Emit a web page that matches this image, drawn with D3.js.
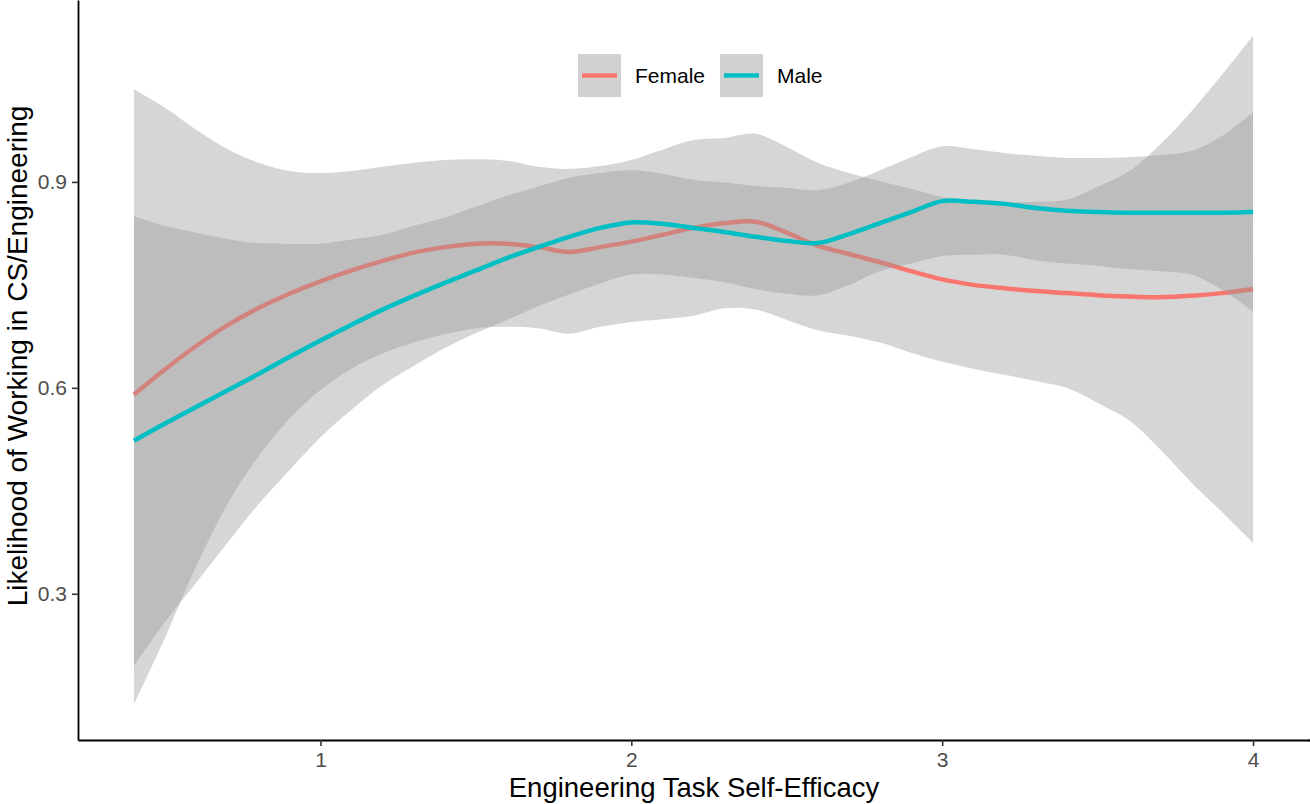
<!DOCTYPE html>
<html>
<head>
<meta charset="utf-8">
<script src="https://cdn.jsdelivr.net/npm/d3@7"></script>
<style>
  body { margin: 0; background: #ffffff; }
  svg { display: block; }
  text { font-family: "Liberation Sans", Arial, Helvetica, sans-serif; }
</style>
</head>
<body>
<svg id="chart" width="1310" height="804"></svg>
<script>
// Smoothed fit of career likelihood against task self-efficacy, by gender,
// with the 95% confidence ribbon of each fit.
const selfEfficacy = [0.4, 0.5, 0.6, 0.7, 0.8, 0.9, 1.0, 1.1, 1.2, 1.3, 1.4, 1.5, 1.6, 1.7, 1.8, 1.9,
  2.0, 2.1, 2.2, 2.3, 2.4, 2.5, 2.6, 2.7, 2.8, 2.9, 3.0, 3.1, 3.2, 3.3, 3.4, 3.5, 3.6, 3.7, 3.8, 3.9, 4.0];

const femaleFit = [0.590, 0.627, 0.661, 0.691, 0.716, 0.737, 0.755, 0.771, 0.785, 0.797, 0.805, 0.810,
  0.810, 0.805, 0.798, 0.805, 0.813, 0.823, 0.833, 0.840, 0.842, 0.826, 0.807, 0.795, 0.783, 0.770,
  0.758, 0.750, 0.745, 0.741, 0.738, 0.735, 0.733, 0.732, 0.734, 0.738, 0.744];
const femaleUpper = [1.035, 1.008, 0.976, 0.948, 0.928, 0.916, 0.913, 0.916, 0.922, 0.928, 0.932, 0.933,
  0.931, 0.922, 0.919, 0.923, 0.932, 0.947, 0.961, 0.964, 0.970, 0.951, 0.928, 0.913, 0.901, 0.890,
  0.878, 0.872, 0.871, 0.871, 0.874, 0.893, 0.915, 0.954, 1.002, 1.056, 1.113];
const femaleLower = [0.139, 0.236, 0.340, 0.430, 0.500, 0.555, 0.597, 0.628, 0.650, 0.666, 0.678, 0.687,
  0.689, 0.687, 0.679, 0.689, 0.696, 0.700, 0.705, 0.716, 0.714, 0.699, 0.684, 0.676, 0.666, 0.651,
  0.638, 0.628, 0.619, 0.610, 0.600, 0.578, 0.553, 0.511, 0.463, 0.419, 0.374];

const maleFit = [0.523, 0.548, 0.572, 0.596, 0.620, 0.645, 0.669, 0.692, 0.714, 0.734, 0.753, 0.771,
  0.789, 0.805, 0.820, 0.833, 0.841, 0.839, 0.833, 0.827, 0.820, 0.814, 0.811, 0.824, 0.840, 0.856,
  0.872, 0.871, 0.868, 0.862, 0.858, 0.856, 0.855, 0.855, 0.855, 0.855, 0.856];
const maleUpper = [0.850, 0.836, 0.826, 0.817, 0.811, 0.810, 0.810, 0.816, 0.823, 0.836, 0.848, 0.864,
  0.880, 0.893, 0.906, 0.913, 0.917, 0.912, 0.903, 0.899, 0.894, 0.891, 0.888, 0.899, 0.917, 0.936,
  0.952, 0.948, 0.942, 0.938, 0.935, 0.935, 0.936, 0.939, 0.945, 0.967, 1.002];
const maleLower = [0.195, 0.259, 0.316, 0.374, 0.430, 0.480, 0.528, 0.568, 0.604, 0.632, 0.658, 0.680,
  0.699, 0.719, 0.736, 0.752, 0.765, 0.765, 0.760, 0.754, 0.744, 0.737, 0.735, 0.750, 0.770, 0.781,
  0.792, 0.794, 0.794, 0.786, 0.781, 0.778, 0.773, 0.770, 0.765, 0.743, 0.711];

const groupNames = ["Female", "Male"];
const groupColors = ["#F8766D", "#00BFC4"];
const xTickValues = [1, 2, 3, 4];
const yTickValues = [0.3, 0.6, 0.9];
const xTitle = "Engineering Task Self-Efficacy";
const yTitle = "Likelihood of Working in CS/Engineering";

// Panel geometry
const W = 1310, H = 804;
const panel = { left: 78, right: 1310, top: 0, bottom: 740 };
const FONT = "'Liberation Sans', Arial, Helvetica, sans-serif";

const x = d3.scaleLinear().domain([0.22, 4.18]).range([panel.left, panel.right - 1]);
const y = d3.scaleLinear().domain([0.087, 1.165]).range([panel.bottom, panel.top]);

const svg = d3.select("#chart");
svg.append("rect").attr("width", W).attr("height", H).attr("fill", "#ffffff");

const series = [
  { name: groupNames[0], color: groupColors[0], fit: femaleFit, lo: femaleLower, hi: femaleUpper },
  { name: groupNames[1], color: groupColors[1], fit: maleFit, lo: maleLower, hi: maleUpper }
];

const curve = d3.curveCatmullRom.alpha(0.5);
const ribbon = d3.area()
  .x(d => x(d.x))
  .y0(d => y(d.lo))
  .y1(d => y(d.hi))
  .curve(curve);
const fitLine = d3.line()
  .x(d => x(d.x))
  .y(d => y(d.fit))
  .curve(curve);

const plot = svg.append("g").attr("class", "smooths");
// each group: ribbon first, then its fitted line
series.forEach(s => {
  const pts = selfEfficacy.map((v, i) => ({ x: v, fit: s.fit[i], lo: s.lo[i], hi: s.hi[i] }));
  plot.append("path")
    .datum(pts)
    .attr("d", ribbon)
    .attr("fill", "#999999")
    .attr("fill-opacity", 0.4);
  plot.append("path")
    .datum(pts)
    .attr("d", fitLine)
    .attr("fill", "none")
    .attr("stroke", s.color)
    .attr("stroke-width", 4.5)
    .attr("stroke-linejoin", "round");
});

// Axes
const yAxis = d3.axisLeft(y).tickValues(yTickValues).tickFormat(d3.format(".1f"))
  .tickSizeInner(6).tickSizeOuter(0).tickPadding(5);
const xAxis = d3.axisBottom(x).tickValues(xTickValues).tickFormat(d3.format("d"))
  .tickSizeInner(6).tickSizeOuter(0).tickPadding(6);

const gy = svg.append("g").attr("transform", `translate(${panel.left},0)`).call(yAxis);
const gx = svg.append("g").attr("transform", `translate(0,${panel.bottom})`).call(xAxis);

[gx, gy].forEach(g => {
  g.attr("font-size", 21).attr("font-family", FONT);
  g.select(".domain").attr("stroke", "#000000").attr("stroke-width", 1.8);
  g.selectAll(".tick line").attr("stroke", "#333333").attr("stroke-width", 1.6);
  g.selectAll(".tick text")
    .attr("fill", "#4D4D4D")
    .attr("font-size", 21)
    .style("font-size", "21px");
});
// x axis line runs to the right edge of the panel
gx.append("line")
  .attr("x1", panel.right - 2).attr("x2", panel.right)
  .attr("y1", 0.5).attr("y2", 0.5)
  .attr("stroke", "#000000").attr("stroke-width", 1.8);

// Axis titles
svg.append("text")
  .attr("x", (panel.left + panel.right) / 2)
  .attr("y", 797)
  .attr("text-anchor", "middle")
  .attr("fill", "#000000")
  .style("font-size", "27.5px")
  .text(xTitle);

svg.append("text")
  .attr("transform", "translate(27,356) rotate(-90)")
  .attr("text-anchor", "middle")
  .attr("fill", "#000000")
  .style("font-size", "28px")
  .text(yTitle);

// Legend
const legendItems = [
  { name: groupNames[0], color: groupColors[0], kx: 578, tx: 635 },
  { name: groupNames[1], color: groupColors[1], kx: 720, tx: 777 }
];
const legend = svg.append("g").attr("class", "legend");
legendItems.forEach(it => {
  legend.append("rect")
    .attr("x", it.kx).attr("y", 54)
    .attr("width", 43).attr("height", 43)
    .attr("fill", "#999999").attr("fill-opacity", 0.45);
  legend.append("line")
    .attr("x1", it.kx + 4).attr("x2", it.kx + 39)
    .attr("y1", 75.5).attr("y2", 75.5)
    .attr("stroke", it.color).attr("stroke-width", 4.5);
  legend.append("text")
    .attr("x", it.tx).attr("y", 83)
    .attr("fill", "#000000")
    .style("font-size", "21px")
    .text(it.name);
});
</script>
</body>
</html>
